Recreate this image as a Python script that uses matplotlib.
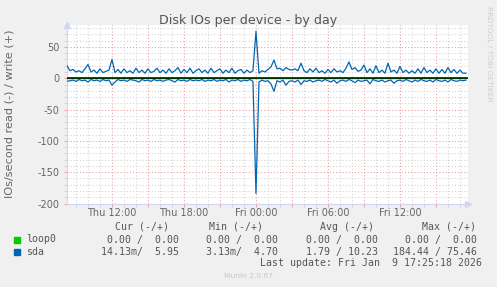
import numpy as np
import matplotlib
matplotlib.use("Agg")
import matplotlib.pyplot as plt
from matplotlib.patches import Rectangle

plt.rcParams["axes.unicode_minus"] = False

# --- data (15 minute samples, hours counted from Thu 00:00) ---
start_hour = 8.25
step_hours = 0.25
sda_write = [20, 12, 14, 10, 12, 9, 15, 22, 10, 13, 8, 15, 9, 11, 13, 30,
             9, 14, 8, 15, 9, 12, 8, 16, 9, 13, 8, 15, 9, 11, 16, 9, 13, 8, 15, 9,
             12, 17, 8, 14, 9, 16, 8, 12, 15, 9, 13, 8, 16, 9, 12, 15, 8, 13, 9, 16,
             8, 12, 14, 8, 13, 9, 12,
             75,
             8, 12, 10, 14, 18, 29, 15, 16, 12, 17, 14, 13, 15, 12, 24, 12, 9, 15,
             10, 16, 9, 12, 8, 14, 9, 15, 10, 12, 9, 16, 26, 14, 17, 11, 13,
             21, 9, 15, 8, 20, 9, 13, 8, 24, 10, 13, 8, 19, 9, 13, 8, 12, 8, 15, 8,
             17, 9, 13, 8, 15, 8, 14, 8, 17, 9, 14, 8, 13, 8, 8]
sda_read = [-5, -4, -3, -5, -2, -4, -3, -6, -2, -4, -3, -5, -2, -4, -3, -11,
            -6, -2, -4, -3, -5, -2, -3, -4, -6, -2, -4, -3, -5, -2, -4, -3, -5, -3,
            -2, -4, -6, -2, -4, -3, -5, -2, -4, -3, -4, -2, -5, -3, -4, -2, -5, -3,
            -4, -2, -6, -3, -4, -2, -5, -3, -4, -2, -5,
            -184,
            -6, -3, -5, -4, -9, -21, -4, -6, -3, -11, -5, -4, -6, -3, -10, -4, -5,
            -3, -6, -4, -3, -5, -2, -4, -6, -3, -8, -4, -3, -5, -2, -4, -7, -3, -5,
            -4, -3, -9, -2, -4, -5, -3, -6, -4, -3, -8, -4, -3, -5, -2, -4, -6, -3,
            -5, -2, -4, -5, -3, -6, -2, -4, -5, -3, -6, -2, -4, -5, -3, -4, -3]
loop0_write = [0] * len(sda_write)
loop0_read = [0] * len(sda_read)

xtick_pos = [12, 15, 18, 21, 24, 27, 30, 33, 36, 39]
xtick_labels = ["Thu 12:00", "", "Thu 18:00", "", "Fri 00:00", "",
                "Fri 06:00", "", "Fri 12:00", ""]
ytick_pos = [-200, -150, -100, -50, 0, 50]

devices = ["loop0", "sda"]
dev_colors = ["#00CC00", "#0066B3"]
col_heads = ["Cur (-/+)", "Min (-/+)", "Avg (-/+)", "Max (-/+)"]
col_vals = [["0.00 /  0.00", "14.13m/  5.95"],
            ["0.00 /  0.00", "3.13m/  4.70"],
            ["0.00 /  0.00", "1.79 / 10.23"],
            ["0.00 /  0.00", "184.44 / 75.46"]]
last_update = "Last update: Fri Jan  9 17:25:18 2026"

W, H = 497, 287
BG = "#F0F0F0"
AXC = "#CFD6F8"
FONT = "#555555"


def fx(px):
    return px / W


def fy(py):
    return 1 - py / H


fig = plt.figure(figsize=(W / 100, H / 100), dpi=100, facecolor=BG)
ax = fig.add_axes([fx(66.5), fy(203.5), (468 - 66.5) / W, (203.5 - 25) / H])
ax.set_facecolor("white")

t = start_hour + step_hours * np.arange(len(sda_write))
ax.plot(t, loop0_write, color=dev_colors[0], lw=0.9, zorder=3)
ax.plot(t, loop0_read, color=dev_colors[0], lw=0.9, zorder=3)
ax.plot(t, sda_write, color=dev_colors[1], lw=0.9, zorder=3)
ax.plot(t, sda_read, color=dev_colors[1], lw=0.9, zorder=3)
ax.axhline(0, color="black", lw=1.1, zorder=4)

ax.set_xlim(8.21, 41.67)
ax.set_ylim(-200, 85)

ax.set_xticks(xtick_pos)
ax.set_xticklabels(xtick_labels)
ax.set_xticks(np.arange(9, 42), minor=True)
ax.set_yticks(ytick_pos)
ax.set_yticks(np.arange(-200, 85, 10), minor=True)

ax.grid(which="major", color="#EE9A9A", ls=(0, (1, 2)), lw=0.75, zorder=1)
ax.grid(which="minor", color="#D2D2D2", ls=(0, (1, 2)), lw=0.75, zorder=0)
ax.tick_params(which="major", length=2, width=0.7, color="#EE9A9A",
               labelsize=7, labelcolor="#666666")
ax.tick_params(which="minor", length=2, width=0.7, color="#D2D2D2")
ax.tick_params(axis="x", which="major", pad=1)
ax.tick_params(axis="y", which="major", pad=3)

for s in ("top", "right"):
    ax.spines[s].set_visible(False)
for s in ("left", "bottom"):
    ax.spines[s].set_color(AXC)
    ax.spines[s].set_linewidth(0.8)
ax.plot([0], [1.0], marker="^", ms=4.5, color=AXC, transform=ax.transAxes,
        clip_on=False, zorder=5)
ax.plot([1.0], [0], marker=">", ms=4.5, color=AXC, transform=ax.transAxes,
        clip_on=False, zorder=5)

fig.text(fx(248.5), fy(24), "Disk IOs per device - by day", ha="center",
         va="baseline", fontsize=9.1, color=FONT)
fig.text(fx(10), fy(113.5), "IOs/second read (-) / write (+)", rotation=90,
         ha="center", va="center", fontsize=8.1, color="#666666")
fig.text(fx(489), fy(53.5), "RRDTOOL / TOBI OETIKER", rotation=-90,
         ha="center", va="center", fontsize=5.4, color="#CFCFCF")

mono = "DejaVu Sans Mono"
head_right = [169, 263, 374, 476]
val_right = [179, 278, 378, 477]
for hx, head in zip(head_right, col_heads):
    fig.text(fx(hx), fy(226.7), head, ha="right", va="center", family=mono,
             fontsize=7.1, color=FONT)
row_y = [239.5, 251.8]
for r, (dev, col) in enumerate(zip(devices, dev_colors)):
    fig.add_artist(Rectangle((fx(14), fy(row_y[r] + 3)), 6 / W, 6 / H,
                             transform=fig.transFigure, color=col))
    fig.text(fx(26.5), fy(row_y[r]), dev, ha="left", va="center", family=mono,
             fontsize=7.1, color=FONT)
    for c in range(4):
        fig.text(fx(val_right[c]), fy(row_y[r]), col_vals[c][r], ha="right",
                 va="center", family=mono, fontsize=7.1, color=FONT)
fig.text(fx(482), fy(263.5), last_update, ha="right", va="center", family=mono,
         fontsize=7.1, color=FONT)
fig.text(fx(248), fy(276.5), "Munin 2.0.67", ha="center", va="center",
         fontsize=5.4, color="#C8C8C8")

fig.savefig("out.png", dpi=100, facecolor=BG)
